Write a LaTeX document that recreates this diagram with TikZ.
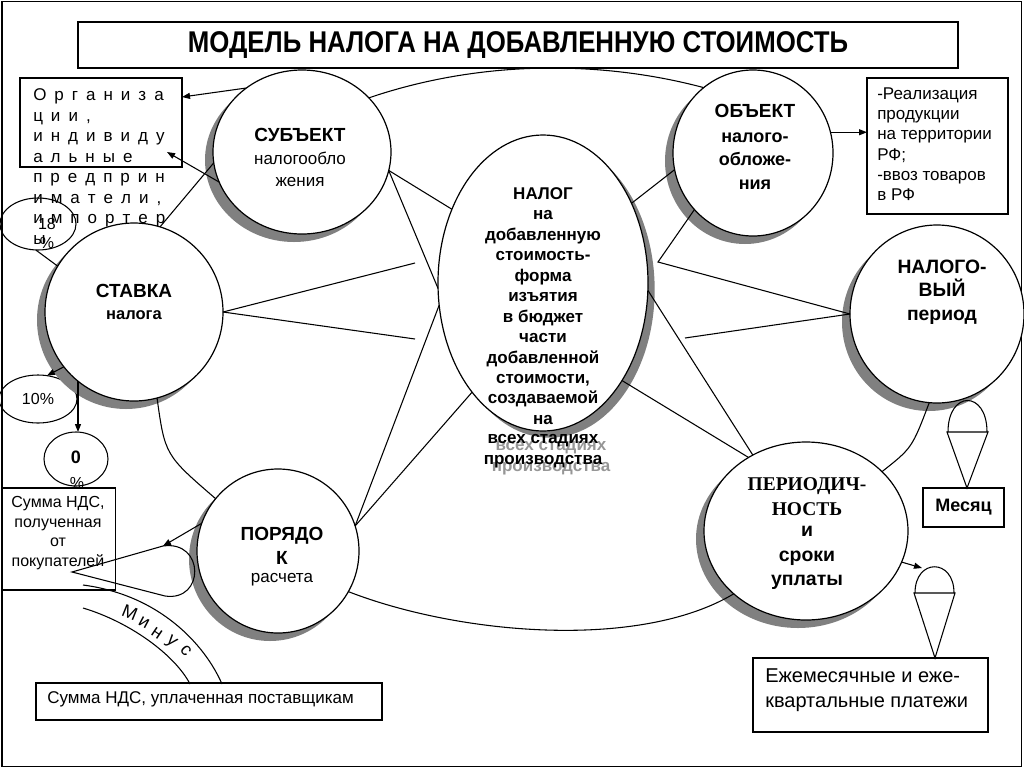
\documentclass[tikz,border=0pt]{standalone}
\usepackage{fontspec}
\setmainfont{Liberation Sans}
\newfontfamily\timesfam{Liberation Serif}
\newfontfamily\narrowfam[FakeStretch=0.86]{Liberation Sans}
\usetikzlibrary{shapes.geometric,arrows.meta,calc}
\definecolor{shade}{RGB}{128,128,128}
\definecolor{tshade}{RGB}{150,150,150}
\newcommand\setfs[2]{\fontsize{#1pt}{#2pt}\selectfont}
\tikzset{
  bubble/.style={ellipse, draw, line width=0.9pt, fill=white, inner sep=0pt, outer sep=0pt,
     preaction={fill=shade, transform canvas={xshift=-6pt,yshift=-6pt}}},
  bubbleR/.style={ellipse, draw, line width=0.9pt, fill=white, inner sep=0pt, outer sep=0pt,
     preaction={fill=shade, transform canvas={xshift=5pt,yshift=-5pt}}},
  plainell/.style={ellipse, draw, line width=0.8pt, inner sep=0pt, outer sep=0pt},
  frame/.style={draw, line width=0.9pt, inner sep=0pt, outer sep=0pt},
  lbl/.style={inner sep=0pt, align=center},
  conn/.style={line width=0.8pt},
  arr/.style={line width=0.8pt, -{Triangle[length=6pt,width=4.5pt]}},
}
\begin{document}
\begin{tikzpicture}[x=0.75pt,y=-0.75pt]
\useasboundingbox (0,0) rectangle (1024,768);
\draw[line width=1.2pt] (2,1.5) rectangle (1021.5,766.5);

% title
\node[frame, minimum width=660pt, minimum height=34.5pt, font=\narrowfam\bfseries\setfs{22.5}{26}] (title) at (518,45) {МОДЕЛЬ НАЛОГА НА ДОБАВЛЕННУЮ СТОИМОСТЬ};

% boxes
\node[frame, minimum width=121.5pt, minimum height=66.75pt, anchor=north west] (org) at (20,78) {};
\node[inner sep=0pt, align=left, anchor=north west, font={\setfs{12.75}{15.4}\spaceskip=6pt\relax}] (orgtext) at (33,88.5)
 {О р г а н и з а\\ц и и ,\\и н д и в и д у\\а л ь н ы е\\п р е д п р и н\\и м а т е л и ,\\и м п о р т е р\\ы};

\node[frame, minimum width=105.75pt, minimum height=102pt, anchor=north west] (real) at (867,78) {};
\node[inner sep=0pt, align=left, anchor=north west, font=\setfs{12.75}{15.15}] (realtext) at (877,87.5)
 {-Реализация\\продукции\\на территории\\РФ;\\-ввоз товаров\\в РФ};

\node[frame, minimum width=84.75pt, minimum height=76.5pt] (vatin) at (59,539) {};
\node[lbl, font=\setfs{12}{14.8}] (vatintext) at (58,533) {Сумма НДС,\\полученная\\от\\покупателей};

\node[frame, minimum width=259.5pt, minimum height=27.75pt] (vatout) at (209,701.5) {};
\node[inner sep=0pt, anchor=west, font=\setfs{12.75}{15}] (vatouttext) at (47,699) {Сумма НДС, уплаченная поставщикам};

\node[frame, minimum width=60.75pt, minimum height=29.25pt, font=\bfseries\setfs{13.5}{16}] (month) at (963.5,507.5) {Месяц};

\node[frame, minimum width=176.25pt, minimum height=55.5pt] (pay) at (870.5,695) {};
\node[inner sep=0pt, align=left, anchor=west, font=\setfs{15}{18.75}] (paytext) at (765,690) {Ежемесячные и еже-\\квартальные платежи};

% small ellipses
\node[plainell, minimum width=57pt, minimum height=39pt] (e18) at (38,224) {};
\node[lbl, font=\setfs{12}{14.25}] (t18) at (47,233) {18\\\%};
\node[plainell, minimum width=58.5pt, minimum height=36pt, font=\setfs{12}{14}] (e10) at (38,399) {10\%};
\node[plainell, minimum width=48pt, minimum height=40.5pt] (e0) at (76,459) {};
\node[lbl, font=\bfseries\setfs{13.5}{16}] (t0a) at (76,457) {0};
\node[lbl, font=\setfs{12}{14}] (t0b) at (77,483) {\%};

% big ellipses
\node[bubble, minimum width=133.5pt, minimum height=123pt] (subj) at (302,152) {};
\node[bubble, minimum width=120pt, minimum height=124.5pt] (obj) at (753,153) {};
\node[bubbleR, minimum width=157.5pt, minimum height=222pt] (tax) at (543,283) {};
\node[bubble, minimum width=133.5pt, minimum height=133.5pt] (rate) at (134,312) {};
\node[bubble, minimum width=130.5pt, minimum height=133.5pt] (period) at (937,314) {};
\node[bubble, minimum width=121.5pt, minimum height=123pt] (calc) at (278,551) {};
\node[bubble, minimum width=153pt, minimum height=133.5pt] (term) at (806,531) {};

% texts in ellipses
\node[lbl, font=\bfseries\setfs{14.25}{17}] (subjA) at (300,135) {СУБЪЕКТ};
\node[lbl, font=\setfs{12.75}{16.5}] (subjB) at (300,169) {налогообло\\жения};
\node[lbl, font=\bfseries\setfs{14.25}{17}] (objA) at (755,111) {ОБЪЕКТ};
\node[lbl, font=\bfseries\setfs{13.5}{17.6}] (objB) at (755,161) {налого-\\обложе-\\ния};
\node[lbl, font=\bfseries\setfs{12.75}{15.35}] (taxA) at (543,306)
 {НАЛОГ\\на\\добавленную\\стоимость-\\форма\\изъятия\\в бюджет\\части\\добавленной\\стоимости,\\создаваемой\\на};
\node[lbl, text=tshade, font=\bfseries\setfs{12.75}{15.35}] (taxS) at (551,458) {всех стадиях\\производства};
\node[lbl, font=\bfseries\setfs{12.75}{15.35}] (taxB) at (543,451) {всех стадиях\\производства};
\node[lbl, font=\bfseries\setfs{14.25}{17}] (rateA) at (134,291) {СТАВКА};
\node[lbl, font=\bfseries\setfs{12.4}{15}] (rateB) at (134,315) {налога};
\node[lbl, font=\bfseries\setfs{14.5}{17.6}] (periodA) at (942,292) {НАЛОГО-\\ВЫЙ\\период};
\node[lbl, font=\bfseries\setfs{14.25}{18}] (calcA) at (282,546) {ПОРЯДО\\К};
\node[lbl, font=\setfs{12.75}{15}] (calcB) at (282,580) {расчета};
\node[lbl, font=\timesfam\bfseries\setfs{14.6}{18.75}] (termA) at (807,497) {ПЕРИОДИЧ-\\НОСТЬ};
\node[lbl, font=\bfseries\setfs{14.6}{18.4}] (termB) at (807,558) {и\\сроки\\уплаты};

% connectors
\coordinate (orgIn) at (167,152);
\draw[arr] (subj.131) -- (org.east |- 0,97);
\draw[arr] (subj.200) -- (orgIn);
\draw[conn] (subj.187) -- (rate.73);
\draw[conn] (subj.39) .. controls (480,60) and (600,60) .. (obj.127);
\draw[conn] (subj.348) -- (tax.141);
\draw[conn] (subj.348) -- (tax.183);
\coordinate (r1) at (415,263);
\coordinate (r2) at (415,339);
\draw[conn] (rate.0) -- (r1);
\draw[conn] (rate.0) -- (r2);
\draw[conn] (e18.265) -- (rate.149);
\draw[arr] (rate.218) -- (e10.69);
\draw[arr] (rate.231) -- (rate.231 |- e0.north);
\draw[conn] (rate.285) .. controls (165,455) .. (calc.140);
\draw[conn] (tax.192) -- (calc.18);
\draw[conn] (tax.237) -- (calc.18);
\coordinate (L0) at (72,572);
\coordinate (L1) at (163,546);
\coordinate (L2) at (165,596);
\draw[arr] (calc.160) -- (L1);
\draw[conn] (L1) .. controls (205,540) and (205,602) .. (L2) -- (L0) -- (L1);
\draw[conn] (calc.330) .. controls (460,635) and (640,650) .. (term.221);
\draw[conn] (obj.192) -- (tax.42);
\coordinate (J1) at (658,262);
\coordinate (J2) at (685,338);
\draw[conn] (obj.224) -- (J1) -- (period.180);
\draw[conn] (J2) -- (period.180);
\draw[conn] (tax.356) -- (term.125);
\draw[conn] (tax.309) -- (term.128);
\draw[conn] (period.265) .. controls (912,448) .. (term.38);
\draw[arr] (obj.15) -- (obj.15 -| real.west);
\coordinate (cone2in) at (922,568);
\draw[arr] (term.342) -- (cone2in);

% cones
\draw[conn] (947,432) -- (988,432) -- (967,488) -- cycle;
\draw[conn] (948,432) .. controls (948,390) and (987,390) .. (987,432);
\draw[conn] (914,593) -- (955,593) -- (935,658) -- cycle;
\draw[conn] (915,593) .. controls (915,558) and (954,558) .. (954,593);

% Minus arcs
\draw[conn] (83,585) .. controls (160,595) and (205,645) .. (222,684);
\draw[conn] (83,608) .. controls (130,622) and (175,655) .. (190,684);
\node[lbl, rotate=-22, font=\setfs{13.5}{16}] (m1) at (130,613) {М};
\node[lbl, rotate=-28, font=\setfs{13.5}{16}] (m2) at (144,623) {и};
\node[lbl, rotate=-34, font=\setfs{13.5}{16}] (m3) at (157,633) {н};
\node[lbl, rotate=-41, font=\setfs{13.5}{16}] (m4) at (171,642) {у};
\node[lbl, rotate=-48, font=\setfs{13.5}{16}] (m5) at (186,651) {с};
\end{tikzpicture}
\end{document}
